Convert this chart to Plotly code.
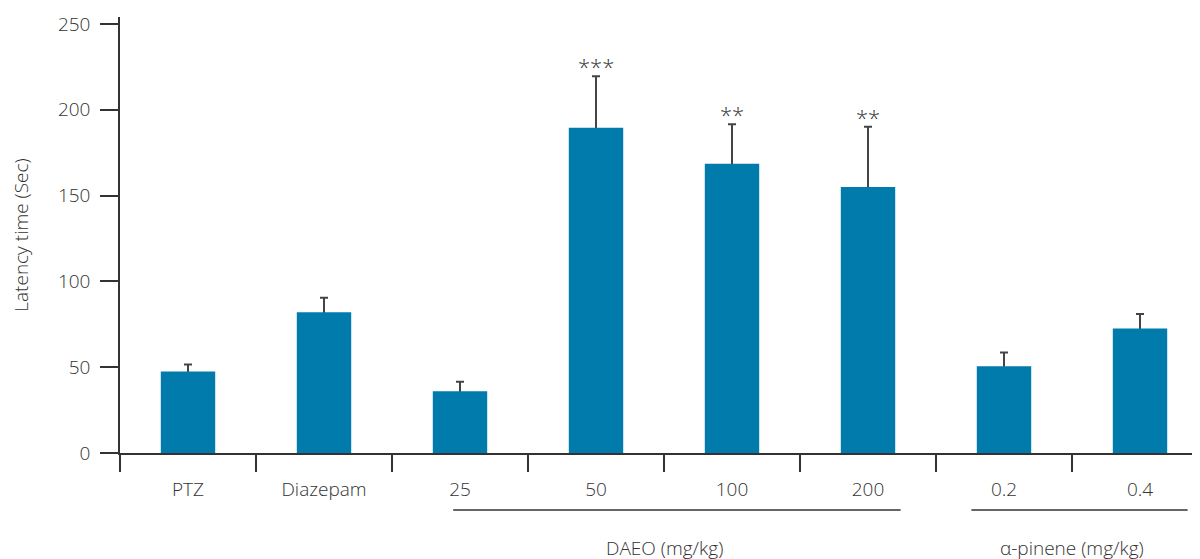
import plotly.graph_objects as go

categories = ["PTZ", "Diazepam", "25", "50", "100", "200", "0.2", "0.4"]
means = [47.5, 82, 36, 189.5, 168.5, 155, 50.5, 72.5]
errors = [4, 8.5, 5.5, 30, 23, 35, 8, 8.5]
signif = ["", "", "", "***", "**", "**", "", ""]
groups = [
    {"label": "DAEO (mg/kg)", "x0": 1.95, "x1": 5.24, "center": 3.5},
    {"label": "α-pinene (mg/kg)", "x0": 5.76, "x1": 7.35, "center": 6.5},
]

BAR = "#007bac"
INK = "#333333"
FAMILY = "Open Sans, Roboto, sans-serif"
FONT = dict(family=FAMILY, size=19, color=INK, weight=300)

fig = go.Figure()
# error bars (base layer, lower half hidden behind bars)
fig.add_trace(go.Scatter(
    x=categories, y=means, mode="markers",
    marker=dict(size=1, color="rgba(0,0,0,0)"),
    error_y=dict(type="data", array=errors, symmetric=True,
                 color="#444444", thickness=2, width=4),
    xaxis="x", yaxis="y", showlegend=False, hoverinfo="skip",
))
fig.add_trace(go.Bar(
    x=categories, y=means, marker=dict(color=BAR, line=dict(width=0)),
    xaxis="x2", yaxis="y2", showlegend=False,
))

for i, (m, e, s) in enumerate(zip(means, errors, signif)):
    if s:
        fig.add_annotation(x=i, y=m + e, xref="x", yref="y", text=s,
                           showarrow=False, yanchor="bottom", yshift=-7,
                           font=dict(family=FAMILY, size=22, color=INK, weight=300))

for g in groups:
    fig.add_shape(type="line", xref="x", yref="paper", x0=g["x0"], x1=g["x1"],
                  y0=-0.131, y1=-0.131, line=dict(color=INK, width=1.5))
    fig.add_annotation(x=g["center"], y=-0.218, xref="x", yref="paper",
                       text=g["label"], showarrow=False, yanchor="middle",
                       font=FONT)

xr = [-0.5, 7.5]
yr = [0, 254]
fig.update_layout(
    width=1200, height=559,
    margin=dict(l=112, r=0, t=9, b=114),
    plot_bgcolor="white", paper_bgcolor="white",
    font=FONT,
    bargap=0.6,
    xaxis=dict(type="category", range=xr, showgrid=False, zeroline=False,
               showline=True, linecolor=INK, linewidth=1.5,
               ticks="outside", tickson="boundaries", ticklen=17,
               tickcolor=INK, tickwidth=1.5, tickfont=FONT,
               ticklabelstandoff=18),
    yaxis=dict(range=yr, showgrid=False, zeroline=False,
               showline=True, linecolor=INK, linewidth=1.5,
               ticks="outside", ticklen=18, tickcolor=INK, tickwidth=1.5,
               tickvals=[0, 50, 100, 150, 200, 250], tickfont=FONT,
               ticklabelstandoff=6,
               title=dict(text="Latency time (Sec)", font=dict(family=FAMILY, size=19, color=INK, weight=300),
                          standoff=24)),
    xaxis2=dict(type="category", range=xr, overlaying="x", matches="x", visible=False),
    yaxis2=dict(range=yr, overlaying="y", matches="y", visible=False),
)

fig.write_html("out.html")
